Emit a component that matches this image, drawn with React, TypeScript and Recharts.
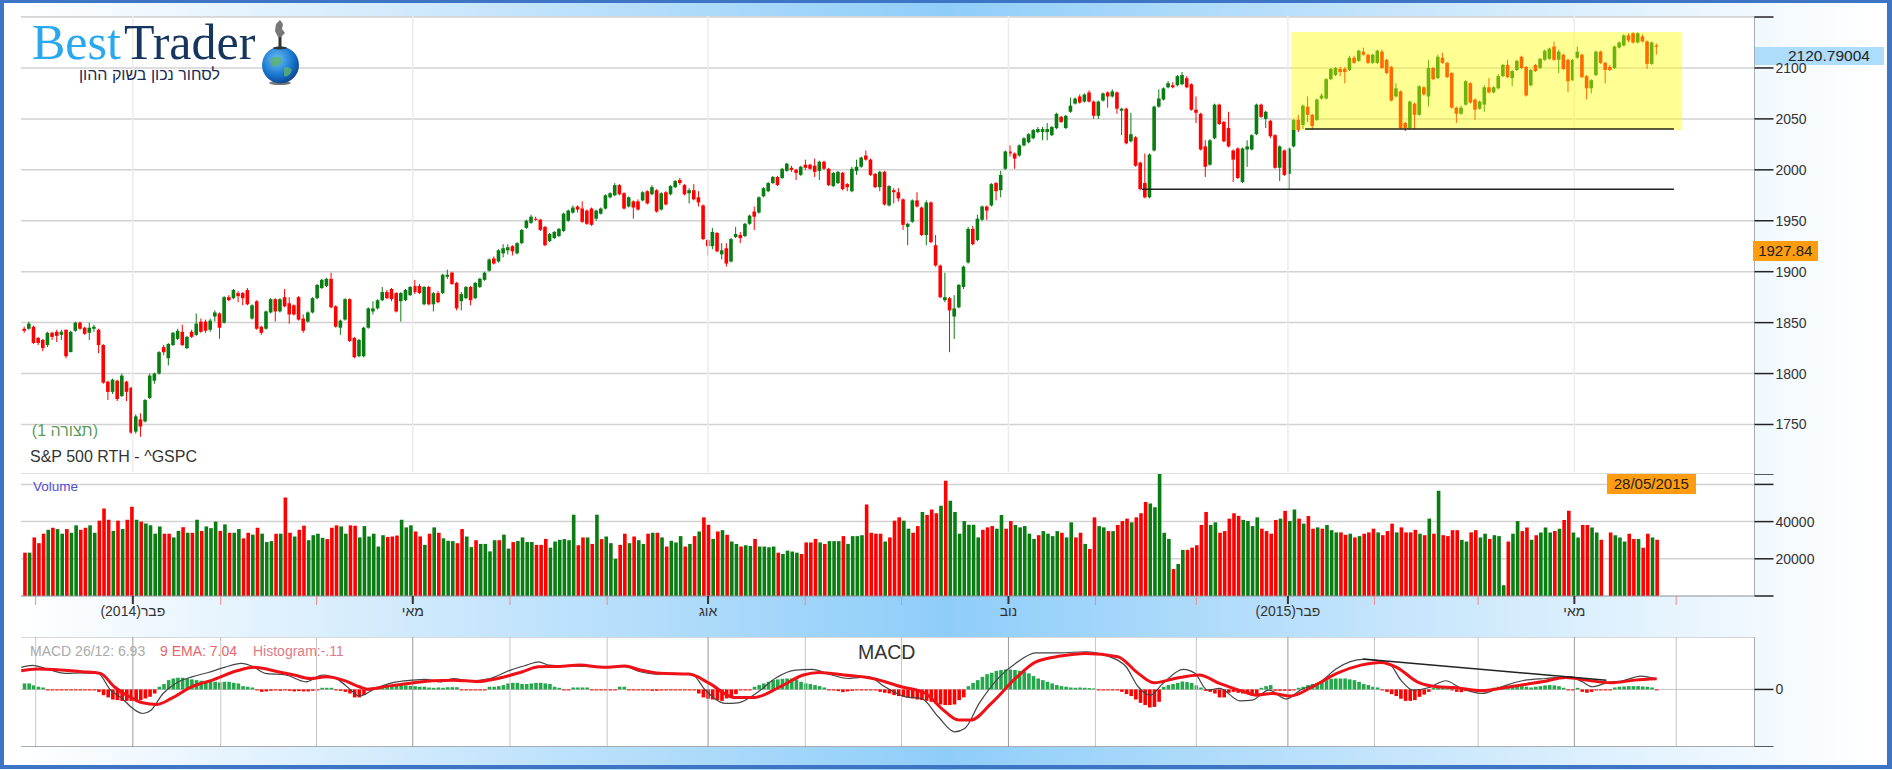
import {
  Bar,
  CartesianGrid,
  Cell,
  ComposedChart,
  Line,
  ReferenceArea,
  ReferenceLine,
  XAxis,
  YAxis,
} from "recharts";

const opens = [
  1844,1844,1846,1835,1833,1828,1840,1841,1838,1843,
  1821,1842,1850,1845,1840,1844,1843,1828,1792,1782,
  1793,1778,1792,1786,1743,1755,1753,1776,1793,1800,
  1826,1815,1828,1834,1841,1825,1841,1838,1851,1851,
  1843,1856,1859,1850,1875,1874,1879,1879,1882,1854,
  1871,1846,1844,1860,1873,1861,1875,1869,1867,1875,
  1854,1851,1860,1874,1884,1886,1893,1866,1845,1853,
  1873,1835,1817,1817,1845,1861,1864,1872,1880,1883,
  1879,1871,1872,1877,1886,1886,1868,1885,1868,1879,
  1879,1895,1899,1889,1871,1874,1885,1874,1885,1892,
  1901,1913,1910,1918,1921,1925,1918,1928,1943,1948,
  1952,1951,1944,1930,1933,1935,1940,1950,1958,1964,
  1962,1960,1962,1952,1957,1962,1973,1975,1985,1977,
  1964,1969,1969,1970,1979,1976,1980,1961,1978,1976,
  1983,1990,1985,1977,1980,1973,1965,1931,1925,1938,
  1917,1923,1910,1934,1936,1935,1947,1959,1958,1974,
  1979,1987,1993,1992,1999,2002,2000,1995,2005,2005,
  2004,1999,2008,2001,1984,1987,1997,1986,1979,1999,
  2003,2014,2010,1996,1983,1998,1965,1980,1978,1971,
  1944,1949,1970,1963,1936,1968,1926,1906,1872,1874,
  1856,1865,1885,1909,1942,1931,1951,1964,1965,1987,
  1980,2001,2018,2016,2014,2024,2027,2031,2037,2037,
  2037,2034,2041,2052,2041,2057,2065,2072,2067,2076,
  2067,2053,2068,2076,2072,2076,2058,2060,2028,2032,
  2007,1987,1973,2019,2062,2069,2081,2083,2083,2084,
  2090,2084,2059,2055,2023,2005,2031,2064,2047,2041,
  2019,2021,1988,2020,2020,2035,2064,2050,2048,2034,
  2002,2019,1996,2023,2049,2044,2062,2054,2049,2070,
  2070,2089,2093,2099,2099,2098,2110,2107,2116,2113,
  2105,2105,2116,2108,2101,2072,2077,2046,2041,
  2065,2054,2081,2072,2100,2090,2110,2105,2095,2061,
  2055,2064,2085,2069,2060,2064,2081,2076,2080,2092,
  2103,2090,2098,2111,2101,2083,2103,2100,2108,2109,
  2121,2108,2113,2108,2088,2110,2113,2092,2080,2093,
  2116,2105,2101,2100,2120,2122,2132,2134,2125,2131,
  2126,2104,2122,
];

const highs = [
  1846,1851,1847,1836,1834,1841,1841,1843,1843,1843,
  1842,1851,1851,1846,1850,1848,1844,1829,1793,1795,
  1794,1800,1793,1787,1760,1761,1775,1800,1801,1822,
  1828,1830,1841,1844,1848,1837,1843,1859,1854,1853,
  1854,1862,1860,1876,1877,1883,1881,1880,1884,1868,
  1872,1847,1862,1874,1874,1874,1883,1875,1868,1876,
  1858,1861,1875,1888,1893,1894,1899,1867,1853,1874,
  1874,1836,1834,1846,1865,1871,1873,1885,1882,1884,
  1880,1880,1883,1886,1892,1888,1886,1886,1880,1881,
  1898,1902,1900,1890,1880,1886,1886,1890,1894,1900,
  1913,1915,1922,1927,1927,1926,1929,1942,1951,1956,
  1954,1952,1945,1938,1940,1943,1958,1961,1965,1965,
  1969,1961,1963,1961,1963,1976,1978,1987,1986,1978,
  1974,1970,1971,1979,1980,1985,1981,1978,1979,1985,
  1990,1992,1986,1982,1986,1979,1966,1932,1943,1939,
  1928,1928,1933,1944,1939,1948,1956,1964,1974,1983,
  1988,1994,1994,2002,2007,2004,2001,2004,2010,2006,
  2011,2009,2009,2002,1998,1999,1998,1987,2003,2010,
  2013,2019,2011,1997,1999,1999,1985,1982,1982,1972,
  1948,1971,1978,1964,1970,1969,1936,1907,1899,1875,
  1877,1888,1906,1944,1945,1956,1965,1965,1987,1988,
  1999,2019,2024,2017,2025,2032,2036,2040,2042,2042,
  2046,2043,2056,2053,2054,2071,2071,2074,2075,2078,
  2068,2068,2076,2077,2079,2077,2061,2061,2056,2033,
  2008,2016,2016,2063,2079,2081,2087,2086,2093,2096,
  2092,2085,2072,2056,2029,2030,2065,2065,2048,2057,
  2020,2022,2022,2029,2035,2065,2065,2058,2049,2035,
  2024,2020,2022,2050,2054,2064,2072,2055,2070,2075,
  2090,2100,2101,2101,2101,2112,2112,2118,2120,2114,
  2114,2118,2118,2109,2102,2085,2078,2047,2068,
  2066,2083,2082,2108,2101,2113,2115,2106,2096,2062,
  2063,2088,2086,2070,2068,2083,2090,2082,2094,2104,
  2108,2098,2108,2112,2102,2099,2104,2110,2118,2120,
  2126,2118,2114,2109,2109,2121,2114,2093,2089,2117,
  2117,2106,2103,2122,2126,2133,2134,2135,2135,2133,
  2127,2126,2124,
];

const lows = [
  1840,1843,1829,1828,1822,1826,1833,1831,1833,1815,
  1821,1841,1843,1838,1833,1841,1820,1790,1774,1780,
  1773,1777,1773,1741,1741,1738,1752,1775,1790,1799,
  1818,1808,1827,1833,1827,1824,1835,1837,1840,1840,
  1841,1851,1834,1849,1871,1873,1870,1867,1867,1853,
  1843,1838,1843,1859,1851,1860,1865,1849,1857,1852,
  1840,1850,1859,1873,1883,1885,1864,1845,1838,1852,
  1831,1815,1816,1816,1844,1858,1863,1871,1873,1871,
  1860,1851,1871,1876,1878,1878,1867,1867,1861,1869,
  1878,1893,1887,1862,1862,1873,1867,1873,1884,1891,
  1900,1907,1909,1914,1917,1916,1917,1927,1942,1947,
  1950,1940,1925,1929,1932,1934,1939,1949,1957,1958,
  1948,1946,1945,1950,1956,1961,1972,1974,1975,1961,
  1963,1952,1960,1969,1966,1975,1958,1960,1965,1975,
  1982,1985,1975,1967,1970,1964,1931,1916,1922,1919,
  1912,1905,1909,1933,1928,1934,1946,1941,1957,1973,
  1978,1986,1984,1991,1998,1998,1990,1994,2000,2000,
  1993,1990,2000,1984,1983,1986,1980,1979,1978,1995,
  2002,2009,1994,1982,1979,1965,1964,1967,1969,1941,
  1926,1948,1963,1935,1926,1928,1905,1874,1870,1821,
  1834,1864,1883,1908,1926,1930,1950,1951,1964,1970,
  1973,2000,2013,2001,2013,2023,2026,2030,2036,2029,
  2029,2033,2040,2046,2040,2056,2064,2065,2066,2066,
  2050,2050,2067,2061,2071,2055,2034,2025,2027,2003,
  1980,1972,1972,2018,2061,2068,2080,2080,2082,2083,
  2080,2058,2046,2019,1993,2004,2030,2044,2027,2022,
  1988,1991,1987,2003,2019,2034,2051,2041,2031,2001,
  1989,1994,1980,2022,2037,2040,2047,2040,2048,2069,
  2069,2088,2092,2092,2085,2097,2104,2106,2112,2104,
  2104,2104,2099,2094,2067,2071,2040,2038,2040,
  2040,2053,2073,2062,2088,2089,2104,2090,2060,2046,
  2054,2063,2065,2049,2059,2057,2075,2075,2079,2091,
  2090,2082,2097,2099,2072,2082,2096,2099,2107,2108,
  2107,2095,2098,2076,2087,2109,2090,2069,2075,2092,
  2104,2085,2097,2099,2119,2121,2125,2124,2124,2125,
  2099,2103,2113,
];

const closes = [
  1842,1849,1830,1830,1825,1840,1836,1837,1841,1817,
  1841,1850,1844,1839,1845,1846,1828,1791,1782,1794,
  1775,1798,1782,1742,1758,1748,1774,1798,1800,1821,
  1821,1829,1840,1842,1828,1836,1836,1849,1841,1842,
  1852,1860,1845,1875,1872,1882,1876,1874,1868,1867,
  1844,1840,1861,1873,1861,1873,1866,1858,1858,1853,
  1842,1860,1874,1887,1892,1893,1865,1846,1852,1873,
  1832,1816,1833,1845,1864,1864,1872,1880,1874,1873,
  1861,1879,1882,1885,1880,1879,1885,1868,1879,1870,
  1897,1897,1888,1864,1878,1885,1872,1889,1893,1899,
  1912,1908,1921,1923,1924,1920,1928,1941,1950,1954,
  1951,1941,1926,1937,1939,1942,1957,1960,1963,1961,
  1949,1947,1946,1960,1962,1975,1977,1985,1976,1962,
  1973,1963,1961,1978,1967,1983,1959,1977,1966,1984,
  1989,1987,1976,1980,1971,1968,1932,1925,1939,1920,
  1921,1908,1932,1937,1933,1947,1955,1954,1973,1982,
  1987,1993,1985,2001,2006,2000,1997,2003,2002,2001,
  1998,2008,2001,1985,1997,1998,1981,1983,2001,2003,
  2012,2010,1995,1983,1998,1966,1984,1978,1972,1946,
  1947,1970,1964,1936,1968,1929,1906,1875,1875,1862,
  1864,1887,1905,1942,1927,1952,1964,1960,1986,1979,
  1995,2018,2016,2011,2024,2031,2035,2039,2040,2040,
  2040,2042,2055,2047,2053,2063,2070,2066,2074,2067,
  2053,2067,2075,2072,2077,2060,2060,2026,2035,2004,
  1981,1973,2015,2062,2070,2080,2085,2081,2092,2093,
  2081,2059,2056,2020,2003,2029,2064,2045,2028,2023,
  2010,1992,2021,2023,2034,2064,2052,2057,2033,2002,
  2023,1995,2021,2049,2039,2063,2054,2043,2069,2073,
  2089,2099,2100,2096,2096,2110,2105,2117,2113,2105,
  2113,2117,2100,2095,2068,2080,2041,2041,2067,
  2054,2082,2074,2100,2089,2111,2105,2091,2061,2055,
  2061,2087,2066,2059,2067,2081,2076,2081,2092,2103,
  2091,2097,2107,2100,2073,2098,2097,2109,2117,2119,
  2108,2116,2099,2087,2108,2116,2091,2080,2088,2116,
  2105,2098,2098,2121,2125,2132,2127,2125,2134,2126,
  2104,2125,2120.79,
];

// volume in thousands
const volumes = [
  23.3,23.3,31.5,28.4,33.5,35.6,36.7,36,33.5,36,
  34,38,35.6,36.7,38,34,40.5,47,41,35,
  40.5,36,41,48,41,40,39,38,33.5,37.4,
  33.5,33.5,31.5,35,37,34,34,41,35,37.4,
  36.5,40,35,38.5,34,34,36,31,34,33,
  36.7,33.5,29,29.5,33.5,33.5,53,34,32,35.6,
  37.8,30,32.7,33.5,31.3,30.6,36.7,38,37.4,33.5,
  38,37.8,31.5,37.6,32,33.5,26.6,32.7,31.7,32,
  32.5,41,36.9,38,34.7,32,27.5,33.5,36.9,34,
  31,29.7,29.5,28.4,36,32,26.3,30,28,28,
  24,30,30,33,25.5,29,29.6,31.5,29,29,
  27.5,27.5,30.7,26,29.3,30.2,30.6,30,43.7,27.3,
  31.5,31.5,28,43.7,30.6,32,28.4,20,27.5,33.5,
  28.4,32,30,
  28,33.5,34,34,31.5,26.6,29.7,28.8,32.2,26.6,
  28,32.2,34.7,42.3,38.3,30.7,34.7,35.4,32.9,29.3,
  28,26.6,27.3,26.9,30.7,26.6,26.6,26.2,26.6,23.3,
  22.6,24.4,23.9,23.3,22.6,28.8,28.8,30.7,28.8,28,
  29.5,29.5,29.5,32.2,28,32.2,32.2,32.7,49.2,34,
  33.5,33.5,29.3,31.5,40.5,42.3,40.5,36.2,34,
  37.6,45.2,43.6,46.5,44.5,48.5,62,51.2,45.2,33.5,
  40.3,38.3,38.3,31.5,35.6,36.9,37.6,36.2,43.6,36.2,
  40.3,38.2,36.9,37.6,33.5,30.7,32.7,34.9,33.5,32.2,
  34.9,34,31.5,39.6,31.5,34,28,25.3,42.3,37.6,
  36.9,34.9,34.9,38.2,40.3,41.6,39.6,42.3,44.5,50.5,
  49.7,47.7,66,34,30.7,14.5,17.2,24.8,24.8,26,
  27.3,38.2,45.2,38.2,39.6,34,34.9,41.6,44.5,43.1,
  40.9,40.3,37.6,42.3,36.2,34.9,33.5,40.9,41.6,
  45.8,40.3,46.5,41.6,38.9,43,36.2,36.9,36.2,38.2,
  35.4,34.2,34.2,32.9,33.5,31.5,32.2,33.5,34.2,36.2,
  34.2,32.7,34.9,38.9,34.2,36.9,34.2,34.2,35.6,
  33.5,32.7,41.6,33.5,56.6,32.7,32.2,35.4,35.4,30.2,
  29.3,34.2,35.4,31.5,33.5,30.7,32.7,32.2,5.8,29.3,
  33.5,40.3,34.9,36.9,30.2,32.7,34.2,36.9,34.2,34.9,
  36.2,40.9,45.8,34.2,31.5,38.2,38.2,36.9,34.2,30.2,
  0,34.2,32.7,31.5,29.3,33.5,30.7,30.7,26,33.5,
  31.5,30.2,
];

// 1 = green volume bar, 0 = red
const volumeUp = [
  0,1,0,0,0,1,0,1,1,0,
  1,1,0,0,1,1,0,0,0,1,
  0,1,0,0,1,0,1,1,1,1,
  0,0,1,1,0,1,0,1,0,1,
  1,1,0,1,0,1,1,0,0,1,
  0,1,1,1,0,1,0,0,1,0,
  0,1,1,1,1,0,0,0,1,1,
  0,0,1,1,1,1,1,1,0,0,
  0,1,1,1,0,0,1,0,1,0,
  1,1,1,0,0,1,1,0,1,1,
  1,1,0,1,1,0,1,1,1,1,
  0,0,0,1,1,1,1,1,1,0,
  0,1,0,1,0,1,1,1,0,0,
  1,0,1,
  1,0,1,0,1,0,1,1,1,0,
  1,0,1,0,0,1,0,1,0,1,
  1,0,1,1,0,1,1,1,1,0,
  1,1,1,1,0,0,0,0,1,0,
  1,1,1,0,1,1,1,1,0,0,
  0,0,1,0,0,0,1,1,0,
  0,1,0,0,0,1,0,1,1,1,
  1,1,1,1,0,0,0,1,1,0,
  0,1,1,1,1,1,0,1,1,1,
  1,0,1,1,0,0,1,0,0,1,
  1,0,1,0,0,0,1,0,0,0,
  1,1,1,1,1,0,1,1,0,0,
  0,0,0,1,1,0,0,0,0,0,
  1,1,1,1,0,0,0,0,1,
  0,1,1,0,1,0,0,1,0,1,
  1,1,0,0,1,0,1,0,0,0,
  1,0,0,0,1,0,0,0,0,
  1,0,1,0,1,0,0,0,0,1,
  1,0,0,1,1,0,1,1,1,0,
  1,1,0,0,1,0,1,1,1,0,
  1,0,0,1,1,0,0,1,1,0,
  0,0,1,1,1,0,0,1,0,0,
  1,0,
];

const histogram = [
  4,4,2.7,1.8,1.3,
  -.2,-.4,-.2,-.4,-.3,-.2,-.4,-.3,-.4,-.2,-.4,
  -1.6,-3.8,-5.3,-6.7,-7.1,-7.6,-7.6,-7.6,-7.6,-7.1,-6,-4.9,-2.7,
  1.8,3.6,6.2,7.3,7.8,7.8,7.3,6.7,6.2,5.8,5.3,5.3,5.1,4.7,5.1,5.1,4.4,4,2.2,1.8,1.3,
  -.4,-1.6,-1.3,-.9,-.4,-.9,-.4,-.9,-1.3,-1.1,-1.3,-1.3,-.9,-.4,
  1.1,1.1,1.1,
  -.4,-.9,-1.6,-2.7,-5.3,-5.3,-3.8,-.4,
  1.3,1.8,2.2,2.2,2.2,2.4,2.7,2.7,2.4,2.2,1.8,1.8,1.3,1.1,1.3,1.1,
  1.5,1.5,1.5,
  -.3,-.3,-.4,-.3,-.4,-.3,
  1.8,1.8,2.2,2.9,4,4.4,4.4,3.6,3.6,4,4.4,4.4,4,3.6,1.8,1.1,
  -.4,-.4,
  1.3,1.3,1.3,1.3,
  -.4,-.4,-.4,-.4,-.4,-.4,
  1.8,1.8,
  -.4,-.4,-.4,
  -.4,-.4,-.9,-.9,-.4,-.4,-.4,-.4,-.4,-.4,-.4,-.4,
  -2.7,-5.3,-6.2,-6.7,-7.1,-7.6,-6,-4.9,-3.1,
  -.4,-.4,-.4,
  1.8,2.9,4,5.1,6.2,6.7,7.1,7.3,7.3,6.7,5.1,4,3.6,2.9,2.2,1.3,
  -.4,-.7,-1.1,-1.8,-1.3,-.9,-.4,-.4,-.4,-.4,-.4,
  -1.6,-2.2,-2.7,-3.8,-4.4,-4.9,-5.3,-6,-6.7,-7.1,-7.6,-8.2,-9.3,-10,-10.4,-10.4,-10,-7.1,-5.3,
  2.2,4.4,6.2,8.4,10.2,11.1,12.4,12.9,13.3,13.3,12.9,12.4,11.8,10.7,8.9,7.3,6.2,5.1,4,2.9,2.2,1.8,1.3,1.1,1.3,1.1,.9,.7,
  -.4,-.4,-.4,-.4,-.4,
  -1.6,-3.1,-4.4,-6.7,-8.9,-10.4,-12,-11.6,-8.2,
  1.8,2.9,3.6,4.4,5.3,4.9,4.4,2.7,1.3,
  -.9,-1.6,-2.7,-5.3,-5.3,-2.2,-1.6,-2.2,-2.7,-3.1,-4,-3.1,
  1.1,2.2,2.9,
  -.9,-.9,-.9,-.9,-.4,
  1.1,1.8,2.9,3.6,4.4,5.1,6.2,7.1,7.3,7.3,7.3,6.7,6.2,5.1,3.6,2.9,1.8,1.3,
  -.4,-1.6,-3.1,-4.4,-6.2,-7.6,-7.6,-7.1,-4.9,-3.4,-1.6,
  .9,1.8,1.6,1.3,
  -.4,-1.6,-1.8,-1.1,-.9,-.4,-.4,-.4,-.4,
  1.1,1.8,2.2,2.4,2.7,2.7,2.2,1.8,1.3,1.8,2.2,2.7,2.9,2.7,2.2,1.1,
  -.4,-.4,
  1.1,
  -1.6,-2.2,-1.6,-.4,-.4,-.4,-.4,
  1.3,1.8,2,2.2,2.2,2.2,2,1.8,1.3,
  -.11,
];

const macdAt = [
  -0.7,1.8,4.4,8.8,12.3,15.8,18.5,21,23.3,25.4,27.2,29.8,32.5,36,39.5,43,46.6,49.2,51.8,56.2,
  60.5,64.1,67.6,70.2,72,75.5,79,83.4,86.1,89.6,92.2,95.7,100.1,104.5,108,110.6,112.8,117.7,124.7,129.1,
  132.4,135.8,139.3,143.7,146.4,150.8,153.4,157.8,161.4,165.8,169.3,173.6,177.1,181.5,185,189.5,192.9,196.5,200,202.2,
  205.3,209.7,213.1,217.5,222.8,228.1,233.3,236.9,239.5,242.1,244.8,249.2,251.7,254.4,257,261.4,264,267.6,271.3,274.4,
  278.7,282.2,287.9,293.4,296,298.6,302.1,305.6,309,313.4,317.7,322.1,327.2,332.4,335,337.2,340.2,343.7,347.6,351,
];
const macdValues = [
  14.7,16,14,10.7,11,10.7,-0.4,-6,-12.7,-16,-13.8,-2.7,4,8.4,11.3,14.7,17.3,15.1,10.7,9.6,
  5.1,9.6,6.2,-0.4,-4.4,0.7,4.4,6.2,6.7,5.1,7.3,5.8,7.3,12.9,16.2,18.4,16.2,15.6,15.1,15.1,
  11.8,10.2,10.7,9.6,-0.4,-9.3,-8.9,-1.6,7.3,12.9,13.3,9.6,7.3,8.4,1.8,-4.9,-6,-18.2,-28.2,-26,
  -9.3,8.4,17.3,24.4,24.4,25.1,21.8,15.1,1.8,-3.8,4,13.3,10.7,-0.4,0.7,-7.6,-7.1,-0.4,-6.4,-0.4,
  5.1,14,20,17.3,6.2,-0.4,1.3,5.8,0.7,-2.7,1.8,5.8,7.3,8.4,5.1,1.8,4.4,5.8,8.9,6.93,
];
const signalAt = [
  -0.7,2.6,7.9,12.3,16.3,19.3,22.8,25.4,28.5,31.6,36,40.4,45.7,49.2,54.5,58,61.4,64.9,68.5,72,
  73.7,78.1,82.5,87.8,92.2,97.4,101.8,107.1,110.6,115,119.4,124.7,129.1,132.4,136.7,142.9,147.3,152.6,157,162.2,
  167.5,171,176.2,182.4,188.5,193.8,197.3,200.9,203.5,207.9,213.1,217.5,222.8,228.1,235.1,239.5,243,247.4,252.6,257,
  262.3,264.9,268.3,272.2,277,282.2,287.4,291.7,295.1,299.5,303.8,307.3,313.4,319.5,326.3,331.5,335.9,341.1,346.3,351,
];
const signalValues = [
  12.4,13.6,12.9,11.8,10.7,1.8,-5.3,-8.9,-10,-6,1.8,6.2,12.4,14.7,11.8,9.6,7.3,8.4,6.2,1.8,
  0.2,2.2,4,5.8,6.2,5.3,7.3,11.8,15.1,15.3,16.2,14.7,15.6,12.9,10.7,10.2,4,-5.3,-5.3,1.3,
  9.6,11.3,9.6,7.3,1.8,-2.7,-12.9,-20.4,-20.4,-9.3,7.3,18.4,22.2,24,21.8,10.7,4.4,7.3,9.6,4,
  -1.6,-3.8,-2.7,-4.4,1.8,10.7,16.2,18,14.7,5.1,1.8,1.3,-0.9,1.8,5.1,8,6.2,4.4,6.2,7.04,
];

const priceTicks = [1750, 1800, 1850, 1900, 1950, 2000, 2050, 2100, 2150];
const volumeTicks = [0, 20, 40, 60, 65.6];
const quarterAt = [23.3, 83.5, 147, 211.6, 271.7, 333.3];
const quarterLabels = ["(2014)פבר", "מאי", "אוג", "נוב", "(2015)פבר", "מאי"];
const monthAt = [2.4, 42.2, 62.8, 104.4, 125.3, 167.9, 188.6, 230.3, 252, 290.3, 312.6, 355.2];

const xDomain = [-0.753, 372.04];
const priceDomain = [1701.4, 2151];
const RED = "#ff0000";
const GREEN = "#0a7d12";
const FONT = "'Liberation Sans', Arial, sans-serif";

const candles = opens.map((open, i) => ({
  i,
  open,
  close: closes[i],
  high: highs[i],
  low: lows[i],
  range: [lows[i], highs[i]],
}));
const volumeData = volumes.map((v, i) => ({ i, v, up: volumeUp[i] }));
const histData = histogram.map((h, i) => ({ i, h }));
const macdData = macdAt.map((i, k) => ({ i, v: macdValues[k] }));
const signalData = signalAt.map((i, k) => ({ i, v: signalValues[k] }));
const allMonths = [...quarterAt, ...monthAt];

function Candle(props: any) {
  const { x, y, width, height, payload } = props;
  const { open, close, high, low } = payload;
  const perUnit = height / (high - low);
  const top = y + (high - Math.max(open, close)) * perUnit;
  const bodyH = Math.max(1, Math.abs(open - close) * perUnit);
  const color = close >= open ? GREEN : RED;
  const cx = x + width / 2;
  return (
    <g>
      <rect x={cx - 0.5} y={y} width={1} height={height} fill={color} />
      <rect x={cx - 1.8} y={top} width={3.6} height={bodyH} fill={color} />
    </g>
  );
}

// the lines' fractional x values shrink the band, so the bar keeps its own width
function HistBar(props: any) {
  const { x, y, width, height, payload } = props;
  const cx = x + width / 2;
  const top = Math.min(y, y + height);
  return (
    <rect
      x={cx - 1.8}
      y={top}
      width={3.6}
      height={Math.max(1, Math.abs(height))}
      fill={payload.h >= 0 ? "#25a84b" : RED}
    />
  );
}

function MonthTick(props: any) {
  const { x, y, payload } = props;
  const q = quarterAt.indexOf(payload.value);
  if (q < 0) {
    return <line x1={x} x2={x} y1={y} y2={y + 9} stroke="#f08a8a" strokeWidth={1} />;
  }
  return (
    <g>
      <line x1={x} x2={x} y1={y} y2={y + 8} stroke="#333" strokeWidth={2} />
      <text x={x} y={y + 20} textAnchor="middle" fontSize={14} fill="#333">
        {quarterLabels[q]}
      </text>
    </g>
  );
}

function Box(props: any) {
  const { left, top, width, height, bg, color, size, children, align } = props;
  return (
    <div
      style={{
        position: "absolute",
        left,
        top,
        width,
        height,
        lineHeight: height + "px",
        background: bg,
        color,
        fontSize: size,
        textAlign: align || "center",
      }}
    >
      {children}
    </div>
  );
}

function Logo() {
  return (
    <svg width={320} height={90} style={{ position: "absolute", left: 0, top: 0 }}>
      <defs>
        <radialGradient id="globe" cx="40%" cy="35%" r="70%">
          <stop offset="0%" stopColor="#6cc0f5" />
          <stop offset="60%" stopColor="#1b78d0" />
          <stop offset="100%" stopColor="#0a3f8a" />
        </radialGradient>
      </defs>
      <text x={32} y={59} fontFamily="'Liberation Serif', serif" fontSize={50}>
        <tspan fill="#2aa8ee">Best</tspan>
        <tspan fill="#17365f" dx={3}>Trader</tspan>
      </text>
      <ellipse cx={280} cy={83} rx={11} ry={2} fill="#777" />
      <circle cx={280.5} cy={65} r={18.5} fill="url(#globe)" />
      <path d="M270 60 q6 -6 11 -2 q3 6 -5 8 q-3 4 -6 -6 M284 68 q6 -2 8 2 q-3 8 -8 6 z" fill="#59b36b" opacity={0.8} />
      <rect x={278.5} y={36} width={3} height={12} fill="#333" />
      <path d="M276 24 l4 -4 3 4 -1 5 3 4 -4 4 h-3 l-3 -6 z" fill="#777" />
      <ellipse cx={280} cy={48} rx={7} ry={1.5} fill="#333" />
    </svg>
  );
}

export default function App() {
  return (
    <div
      style={{
        position: "absolute",
        left: 0,
        top: 0,
        width: 1892,
        height: 770,
        overflow: "hidden",
        fontFamily: FONT,
        background: "linear-gradient(to right, #ffffff 1%, #8fcdf9 50%, #ffffff 99%)",
      }}
    >
      {/* white panels behind the charts */}
      <div style={{ position: "absolute", left: 21, top: 16, width: 1733.5, height: 580, background: "#fff" }} />
      <div style={{ position: "absolute", left: 21, top: 637, width: 1733.5, height: 110, background: "#fff", borderTop: "1px solid #d8d8d8", boxSizing: "border-box" }} />

      <Box left={1754} top={47} width={130} height={18} bg="#aedcfb" />

      {/* price */}
      <div style={{ position: "absolute", left: 21, top: 16 }}>
        <ComposedChart width={1871} height={458} data={candles} margin={{ top: 0, right: 0, bottom: 0, left: 0 }} style={{ overflow: "visible" }}>
          <CartesianGrid horizontal vertical={false} stroke="#d2d2d2" strokeWidth={1.5} />
          {quarterAt.map((q) => (
            <ReferenceLine key={q} x={q} stroke="#ececec" strokeWidth={1.5} />
          ))}
          <XAxis dataKey="i" type="number" domain={xDomain} allowDataOverflow hide />
          <YAxis
            orientation="right"
            width={137.5}
            domain={priceDomain}
            ticks={priceTicks}
            interval={0}
            allowDataOverflow
            tickSize={19}
            tickMargin={2}
            tickLine={{ stroke: "#222", strokeWidth: 1.5 }}
            axisLine={{ stroke: "#a8aeb6" }}
            tick={{ fontSize: 14, fill: "#333" }}
            tickFormatter={(v: number) => (v === 2150 ? "" : String(v))}
          />
          <Bar dataKey="range" barSize={4} shape={<Candle />} isAnimationActive={false} />
        </ComposedChart>
      </div>

      {/* yellow zone goes over the candles, so it sits in its own chart on top */}
      <div style={{ position: "absolute", left: 21, top: 16 }}>
        <ComposedChart width={1871} height={458} data={candles} margin={{ top: 0, right: 137.5, bottom: 0, left: 0 }}>
          <XAxis dataKey="i" type="number" domain={xDomain} allowDataOverflow hide />
          <YAxis domain={priceDomain} allowDataOverflow hide />
          <ReferenceArea x1={272.4} x2={356.5} y1={2039.2} y2={2135.3} fill="#ffff00" fillOpacity={0.42} stroke="none" />
          <ReferenceLine segment={[{ x: 240.3, y: 1981 }, { x: 354.7, y: 1981 }]} stroke="#222" strokeWidth={1.5} />
          <ReferenceLine segment={[{ x: 275.4, y: 2040 }, { x: 354.7, y: 2040 }]} stroke="#222" strokeWidth={1.5} />
        </ComposedChart>
      </div>

      {/* volume */}
      <div style={{ position: "absolute", left: 21, top: 474 }}>
        <ComposedChart width={1871} height={162} data={volumeData} margin={{ top: 0, right: 0, bottom: 0, left: 0 }} style={{ overflow: "visible" }}>
          <CartesianGrid horizontal vertical={false} horizontalValues={[20, 40, 60]} stroke="#d2d2d2" strokeWidth={1.5} />
          <XAxis
            dataKey="i"
            type="number"
            domain={xDomain}
            allowDataOverflow
            ticks={allMonths}
            interval={0}
            height={40}
            tickSize={0}
            tickMargin={0}
            tickLine={false}
            axisLine={{ stroke: "#8a8f96", strokeWidth: 1 }}
            tick={<MonthTick />}
          />
          <YAxis
            orientation="right"
            width={137.5}
            domain={[0, 65.6]}
            ticks={volumeTicks}
            interval={0}
            allowDataOverflow
            tickSize={19}
            tickMargin={2}
            tickLine={{ stroke: "#222", strokeWidth: 1.5 }}
            axisLine={{ stroke: "#a8aeb6" }}
            tick={{ fontSize: 14, fill: "#333" }}
            tickFormatter={(v: number) => (v === 20 || v === 40 ? String(v * 1000) : "")}
          />
          <Bar dataKey="v" barSize={3.6} isAnimationActive={false}>
            {volumeData.map((d) => (
              <Cell key={d.i} fill={d.up ? GREEN : RED} />
            ))}
          </Bar>
        </ComposedChart>
      </div>

      {/* macd */}
      <div style={{ position: "absolute", left: 21, top: 637 }}>
        <ComposedChart width={1871} height={110} data={histData} margin={{ top: 0, right: 0, bottom: 0, left: 0 }} style={{ overflow: "visible" }}>
          <CartesianGrid horizontal vertical={false} horizontalValues={[0]} stroke="#c4c4c4" />
          {monthAt.map((m) => (
            <ReferenceLine key={m} x={m} stroke="#c6c6c6" />
          ))}
          {quarterAt.map((q) => (
            <ReferenceLine key={q} x={q} stroke="#9a9a9a" />
          ))}
          <XAxis dataKey="i" type="number" domain={xDomain} allowDataOverflow hide />
          <YAxis
            orientation="right"
            width={137.5}
            domain={[-38.3, 34.9]}
            ticks={[-38.3, 0]}
            interval={0}
            allowDataOverflow
            tickSize={19}
            tickMargin={2}
            tickLine={{ stroke: "#222", strokeWidth: 1.5 }}
            axisLine={{ stroke: "#a8aeb6" }}
            tick={{ fontSize: 14, fill: "#333" }}
            tickFormatter={(v: number) => (v === 0 ? "0" : "")}
          />
          <ReferenceLine y={-38.3} stroke="#8a8f96" strokeWidth={1.5} />
          <Bar dataKey="h" shape={<HistBar />} isAnimationActive={false} />
          <Line data={macdData} dataKey="v" type="monotone" stroke="#444" strokeWidth={1.2} dot={false} isAnimationActive={false} />
          <Line data={signalData} dataKey="v" type="monotone" stroke="#ee1118" strokeWidth={3} dot={false} isAnimationActive={false} />
          <ReferenceLine segment={[{ x: 287.8, y: 20.2 }, { x: 340.2, y: 6.2 }]} stroke="#222" strokeWidth={1.5} />
        </ComposedChart>
      </div>

      <Logo />
      <div dir="rtl" style={{ position: "absolute", left: 60, top: 66, width: 160, fontSize: 16, lineHeight: "18px", color: "#1c2c55", textAlign: "right" }}>
        לסחור נכון בשוק ההון
      </div>
      <div dir="rtl" style={{ position: "absolute", left: 20, top: 422, width: 78, fontSize: 16, lineHeight: "18px", color: "#5c9c5c", textAlign: "right" }}>
        (תצורה 1)
      </div>
      <div style={{ position: "absolute", left: 30, top: 448, fontSize: 16, lineHeight: "18px", color: "#333" }}>S&amp;P 500 RTH - ^GSPC</div>
      <div style={{ position: "absolute", left: 33, top: 479, fontSize: 13.5, lineHeight: "16px", color: "#5050d0" }}>Volume</div>
      <div style={{ position: "absolute", left: 30, top: 642, fontSize: 14, lineHeight: "18px", color: "#aaa", whiteSpace: "pre" }}>MACD 26/12: 6.93</div>
      <div style={{ position: "absolute", left: 160, top: 642, fontSize: 14, lineHeight: "18px", color: "#e8636b", whiteSpace: "pre" }}>9 EMA: 7.04</div>
      <div style={{ position: "absolute", left: 253, top: 642, fontSize: 14, lineHeight: "18px", color: "#df7a88", whiteSpace: "pre" }}>Histogram:-.11</div>
      <div style={{ position: "absolute", left: 858, top: 640, fontSize: 19.5, lineHeight: "24px", color: "#333" }}>MACD</div>

      <Box left={1788} top={47} width={90} height={18} color="#222" size={15.5} align="left">2120.79004</Box>
      <Box left={1752.5} top={241} width={65.5} height={20} bg="#ff9c10" color="#222" size={15}>1927.84</Box>
      <Box left={1606.6} top={474} width={89.4} height={20} bg="#ff9c10" color="#222" size={15}>28/05/2015</Box>

      {/* window frame */}
      <div style={{ position: "absolute", left: 0, top: 0, width: 1892, height: 769, boxSizing: "border-box", borderLeft: "4px solid #3d74c4", borderTop: "3px solid #3d74c4", borderRight: "5px solid #3d74c4", borderBottom: "4px solid #3d74c4", pointerEvents: "none" }} />
    </div>
  );
}
